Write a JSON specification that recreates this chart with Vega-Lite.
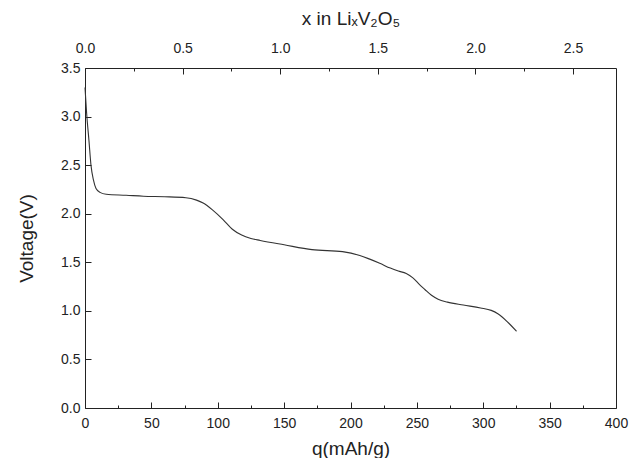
{
  "$schema": "https://vega.github.io/schema/vega-lite/v6.json",
  "width": 531,
  "height": 340,
  "autosize": "none",
  "padding": {"left": 85, "top": 68, "right": 13, "bottom": 50},
  "config": {
    "view": {"stroke": "#222", "strokeWidth": 1},
    "font": "Liberation Sans",
    "axis": {
      "grid": false,
      "domain": false,
      "tickColor": "#222",
      "tickWidth": 1,
      "labelColor": "#222",
      "labelFontSize": 14,
      "labelFont": "Liberation Sans",
      "titleFont": "Liberation Sans",
      "titleFontSize": 19,
      "titleFontWeight": "normal",
      "titleColor": "#222",
      "labelFlush": false
    }
  },
  "layer": [
    {
      "data": {
        "values": [
          {"q": 0, "V": 3.3}, {"q": 1.2, "V": 3.04}, {"q": 3, "V": 2.75}, {"q": 4.5, "V": 2.5},
          {"q": 6.3, "V": 2.35}, {"q": 8.3, "V": 2.26}, {"q": 11.3, "V": 2.22}, {"q": 16, "V": 2.2},
          {"q": 31, "V": 2.19}, {"q": 44, "V": 2.18}, {"q": 60, "V": 2.175},
          {"q": 76, "V": 2.165}, {"q": 84, "V": 2.14}, {"q": 89, "V": 2.11}, {"q": 96, "V": 2.04},
          {"q": 104, "V": 1.94}, {"q": 111, "V": 1.84}, {"q": 118, "V": 1.78}, {"q": 125, "V": 1.745},
          {"q": 132, "V": 1.725}, {"q": 150, "V": 1.68}, {"q": 171, "V": 1.63}, {"q": 194, "V": 1.61},
          {"q": 207, "V": 1.57}, {"q": 214, "V": 1.535}, {"q": 222, "V": 1.49}, {"q": 230, "V": 1.44},
          {"q": 236, "V": 1.41}, {"q": 242, "V": 1.385}, {"q": 247, "V": 1.34}, {"q": 252, "V": 1.27},
          {"q": 256, "V": 1.22}, {"q": 261, "V": 1.16}, {"q": 266, "V": 1.12}, {"q": 273, "V": 1.09},
          {"q": 285, "V": 1.06}, {"q": 298, "V": 1.03}, {"q": 306, "V": 1.005}, {"q": 311, "V": 0.97},
          {"q": 318, "V": 0.89}, {"q": 325, "V": 0.79}
        ]
      },
      "mark": {"type": "line", "interpolate": "monotone", "color": "#333", "strokeWidth": 1.1},
      "encoding": {
        "x": {
          "field": "q",
          "type": "quantitative",
          "scale": {"domain": [0, 400], "nice": false},
          "axis": {
            "orient": "bottom",
            "title": "q(mAh/g)",
            "values": [0, 25, 50, 75, 100, 125, 150, 175, 200, 225, 250, 275, 300, 325, 350, 375, 400],
            "labelExpr": "datum.value % 50 === 0 ? datum.label : ''",
            "tickSize": {"condition": {"test": "datum.value % 50 === 0", "value": -6}, "value": -3},
            "labelPadding": 14,
            "titlePadding": 9
          }
        },
        "y": {
          "field": "V",
          "type": "quantitative",
          "scale": {"domain": [0, 3.5], "nice": false},
          "axis": {
            "title": "Voltage(V)",
            "values": [0, 0.25, 0.5, 0.75, 1, 1.25, 1.5, 1.75, 2, 2.25, 2.5, 2.75, 3, 3.25, 3.5],
            "labelExpr": "(datum.value * 2) % 1 === 0 ? format(datum.value, '.1f') : ''",
            "tickSize": {"condition": {"test": "(datum.value * 2) % 1 === 0", "value": -6}, "value": -3},
            "labelPadding": 11,
            "titlePadding": 24
          }
        }
      }
    },
    {
      "data": {"values": [{"xli": 0, "V": 0}, {"xli": 2.72, "V": 0}]},
      "mark": {"type": "point", "opacity": 0},
      "encoding": {
        "x": {
          "field": "xli",
          "type": "quantitative",
          "scale": {"domain": [0, 2.72], "nice": false},
          "axis": {
            "orient": "top",
            "title": "x in LiₓV₂O₅",
            "values": [0, 0.25, 0.5, 0.75, 1, 1.25, 1.5, 1.75, 2, 2.25, 2.5],
            "labelExpr": "(datum.value * 2) % 1 === 0 ? format(datum.value, '.1f') : ''",
            "tickSize": {"condition": {"test": "(datum.value * 2) % 1 === 0", "value": -6}, "value": -3},
            "labelPadding": 19,
            "titlePadding": 13
          }
        },
        "y": {"field": "V", "type": "quantitative"}
      }
    }
  ],
  "resolve": {"scale": {"x": "independent"}}
}
